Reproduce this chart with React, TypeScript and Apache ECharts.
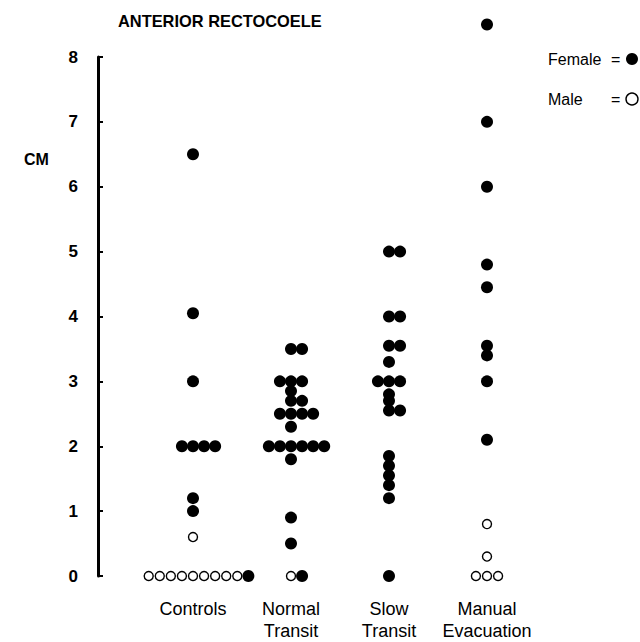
import React, { useEffect, useRef } from "react";
import * as echarts from "echarts";

// Rectocoele depth (cm) per patient group, split by sex.
const categories = ["Controls", "Normal\nTransit", "Slow\nTransit", "Manual\nEvacuation"];
const yTicks = [0, 1, 2, 3, 4, 5, 6, 7, 8];

const controlsFemale = [6.5, 4.05, 3.0, 2, 2, 2, 2, 1.2, 1.0, 0];
const controlsMale = [0.6, 0, 0, 0, 0, 0, 0, 0, 0, 0];

const normalFemale = [3.5, 3.5, 3, 3, 3, 2.85, 2.7, 2.7, 2.5, 2.5, 2.5, 2.5, 2.3, 2, 2, 2, 2, 2, 2, 1.8, 0.9, 0.5, 0];
const normalMale = [0];

const slowFemale = [5, 5, 4, 4, 3.55, 3.55, 3.3, 3, 3, 3, 2.8, 2.7, 2.55, 2.55, 1.85, 1.7, 1.55, 1.4, 1.2, 0];
const slowMale: number[] = [];

const manualFemale = [8.5, 7, 6, 4.8, 4.45, 3.55, 3.4, 3, 2.1];
const manualMale = [0.8, 0.3, 0, 0, 0];

const groups = [
  { female: controlsFemale, male: controlsMale },
  { female: normalFemale, male: normalMale },
  { female: slowFemale, male: slowMale },
  { female: manualFemale, male: manualMale },
];

// horizontal step between dots that share a value, in column units
const SLOT = 0.113;

// Dot-plot layout: equal values within a column sit side by side.
function swarm(col: number, female: number[], male: number[]) {
  const fem: number[][] = [];
  const mal: number[][] = [];
  const values = Array.from(new Set([...male, ...female]));
  for (const v of values) {
    const items = [
      ...male.filter((m) => m === v).map(() => "m"),
      ...female.filter((f) => f === v).map(() => "f"),
    ];
    const start = -Math.floor((items.length - 1) / 2);
    items.forEach((s, i) => {
      const pt = [col + (start + i) * SLOT, v];
      (s === "f" ? fem : mal).push(pt);
    });
  }
  return { fem, mal };
}

const FONT = "'Liberation Sans', Arial, Helvetica, sans-serif";

export default function App() {
  const ref = useRef<HTMLDivElement>(null);

  useEffect(() => {
    if (!ref.current) return;
    const chart = echarts.init(ref.current, null, { renderer: "svg" });

    const femaleData: number[][] = [];
    const maleData: number[][] = [];
    groups.forEach((g, i) => {
      const { fem, mal } = swarm(i + 1, g.female, g.male);
      femaleData.push(...fem);
      maleData.push(...mal);
    });

    chart.setOption({
      animation: false,
      backgroundColor: "#fff",
      textStyle: { fontFamily: FONT, color: "#000" },
      title: {
        text: "ANTERIOR RECTOCOELE",
        left: 118,
        top: 13,
        padding: 0,
        textStyle: { fontFamily: FONT, fontSize: 16.4, fontWeight: "bold", color: "#000" },
      },
      legend: {
        orient: "vertical",
        left: 548,
        top: 51,
        align: "right",
        itemWidth: 12,
        itemHeight: 12,
        itemGap: 24,
        padding: 0,
        formatter: (name: string) => `{n|${name}}{e|=}`,
        textStyle: {
          fontFamily: FONT,
          color: "#000",
          rich: {
            n: { width: 63, align: "left", fontSize: 16, fontFamily: FONT, color: "#000" },
            e: { width: 10, align: "left", fontSize: 16, fontFamily: FONT, color: "#000" },
          },
        },
        data: [
          { name: "Female", icon: "circle", itemStyle: { color: "#000", opacity: 1 } },
          {
            name: "Male",
            icon: "circle",
            itemStyle: { color: "#fff", borderColor: "#000", borderWidth: 1.4, opacity: 1 },
          },
        ],
      },
      grid: { left: 95, top: 57, bottom: 59, width: 441 },
      xAxis: {
        type: "value",
        min: 0,
        max: 4.5,
        axisLine: { show: false },
        axisTick: { show: false },
        splitLine: { show: false },
        axisLabel: {
          customValues: [1, 2, 3, 4],
          formatter: (v: number) => categories[Math.round(v) - 1] ?? "",
          fontFamily: FONT,
          fontSize: 18,
          lineHeight: 22,
          color: "#000",
          margin: 22,
        },
      },
      yAxis: {
        type: "value",
        min: 0,
        max: 8,
        interval: 1,
        offset: -3,
        axisLine: { show: true, lineStyle: { color: "#000", width: 3 } },
        axisTick: { show: true, inside: true, length: 5, lineStyle: { color: "#000", width: 2 } },
        splitLine: { show: false },
        axisLabel: {
          customValues: yTicks,
          fontFamily: FONT,
          fontSize: 17,
          fontWeight: "bold",
          color: "#000",
          margin: 20,
        },
      },
      graphic: [
        {
          type: "text",
          left: 24,
          top: 151,
          style: { text: "CM", fontFamily: FONT, fontSize: 16, fontWeight: "bold", fill: "#000" },
        },
      ],
      series: [
        {
          name: "Female",
          type: "scatter",
          symbol: "circle",
          symbolSize: 12,
          clip: false,
          itemStyle: { color: "#000", opacity: 1 },
          data: femaleData,
          z: 3,
        },
        {
          name: "Male",
          type: "scatter",
          symbol: "circle",
          symbolSize: 9,
          clip: false,
          itemStyle: { color: "#fff", borderColor: "#000", borderWidth: 1.4, opacity: 1 },
          data: maleData,
          z: 2,
        },
      ],
    });

    return () => chart.dispose();
  }, []);

  return (
    <div
      ref={ref}
      style={{ position: "fixed", left: 0, top: 0, width: 640, height: 642, background: "#fff" }}
    />
  );
}
